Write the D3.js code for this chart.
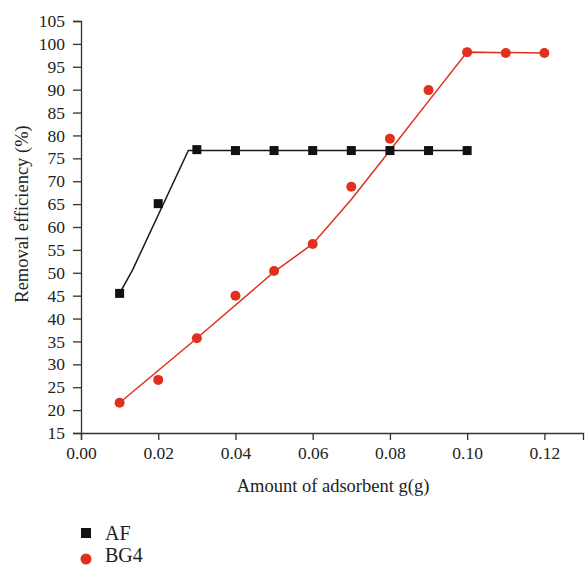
<!DOCTYPE html>
<html>
<head>
<meta charset="utf-8">
<script src="https://cdn.jsdelivr.net/npm/d3@7"></script>
<style>
  body { margin: 0; background: #fff; }
  svg text { font-family: "Liberation Serif", "DejaVu Serif", serif; fill: #222; }
</style>
</head>
<body>
<svg id="chart"></svg>
<script>
// measured points
const doses = [0.01, 0.02, 0.03, 0.04, 0.05, 0.06, 0.07, 0.08, 0.09, 0.10, 0.11, 0.12];
const afDoses = [0.01, 0.02, 0.03, 0.04, 0.05, 0.06, 0.07, 0.08, 0.09, 0.10];
const afValues = [45.5, 65.1, 76.9, 76.7, 76.7, 76.7, 76.7, 76.7, 76.7, 76.7];
const bg4Values = [21.6, 26.6, 35.7, 45.0, 50.4, 56.3, 68.8, 79.3, 89.9, 98.2, 98.0, 98.0];

// fitted curves
const afFitX = [0.01, 0.0134, 0.0278, 0.10];
const afFitY = [45.5, 50.7, 76.7, 76.7];
const bg4FitX = [0.01, 0.03, 0.05, 0.06, 0.07, 0.08, 0.09, 0.10, 0.12];
const bg4FitY = [21.6, 35.7, 50.2, 56.3, 66.0, 76.7, 87.5, 98.2, 98.0];

const yTicks = d3.range(15, 106, 5);
const xTicks = [0, 0.02, 0.04, 0.06, 0.08, 0.10, 0.12];
const seriesNames = ["AF", "BG4"];

const width = 588, height = 566;
const margin = { left: 81, right: 5, top: 21, bottom: 133 };

const svg = d3.select("#chart").attr("width", width).attr("height", height);

const x = d3.scaleLinear().domain([0, 0.13]).range([margin.left, 583]);
const y = d3.scaleLinear().domain([15, 105]).range([height - margin.bottom, margin.top]);

// axes
const xAxis = svg.append("g")
  .attr("transform", `translate(0,${y(15)})`)
  .call(d3.axisBottom(x).tickValues(xTicks).tickFormat(d3.format(".2f")).tickSizeOuter(0).tickSize(7).tickPadding(7));
const yAxis = svg.append("g")
  .attr("transform", `translate(${x(0)},0)`)
  .call(d3.axisLeft(y).tickValues(yTicks).tickSizeOuter(0).tickSize(8).tickPadding(8));

[xAxis, yAxis].forEach(a => {
  a.selectAll("path, line").attr("stroke", "#333").attr("stroke-width", 1.3);
  a.selectAll("text").style("font-size", "17.5px").attr("fill", "#222");
});

// axis titles
svg.append("text")
  .attr("x", 333)
  .attr("y", 492)
  .attr("text-anchor", "middle")
  .style("font-size", "18.5px")
  .text("Amount of adsorbent g(g)");

svg.append("text")
  .attr("transform", "translate(28,214) rotate(-90)")
  .attr("text-anchor", "middle")
  .style("font-size", "18.5px")
  .text("Removal efficiency (%)");

const line = d3.line().x(d => x(d[0])).y(d => y(d[1]));

// fit lines
svg.append("path")
  .datum(d3.zip(afFitX, afFitY))
  .attr("d", line)
  .attr("fill", "none")
  .attr("stroke", "#1a1a1a")
  .attr("stroke-width", 1.5);

svg.append("path")
  .datum(d3.zip(bg4FitX, bg4FitY))
  .attr("d", line)
  .attr("fill", "none")
  .attr("stroke", "#e0301e")
  .attr("stroke-width", 1.5);

// markers
svg.append("g").selectAll("rect")
  .data(d3.zip(afDoses, afValues))
  .join("rect")
  .attr("x", d => x(d[0]) - 4.5)
  .attr("y", d => y(d[1]) - 4.5)
  .attr("width", 9)
  .attr("height", 9)
  .attr("fill", "#121212");

svg.append("g").selectAll("circle")
  .data(d3.zip(doses, bg4Values))
  .join("circle")
  .attr("cx", d => x(d[0]))
  .attr("cy", d => y(d[1]))
  .attr("r", 5)
  .attr("fill", "#e0301e");

// legend
const legend = svg.append("g");
legend.append("rect")
  .attr("x", 81).attr("y", 528).attr("width", 10).attr("height", 10)
  .attr("fill", "#121212");
legend.append("circle")
  .attr("cx", 86).attr("cy", 559).attr("r", 5.5)
  .attr("fill", "#e0301e");
legend.selectAll("text")
  .data(seriesNames)
  .join("text")
  .attr("x", 105)
  .attr("y", (d, i) => 540 + i * 22)
  .style("font-size", "20px")
  .text(d => d);
</script>
</body>
</html>
